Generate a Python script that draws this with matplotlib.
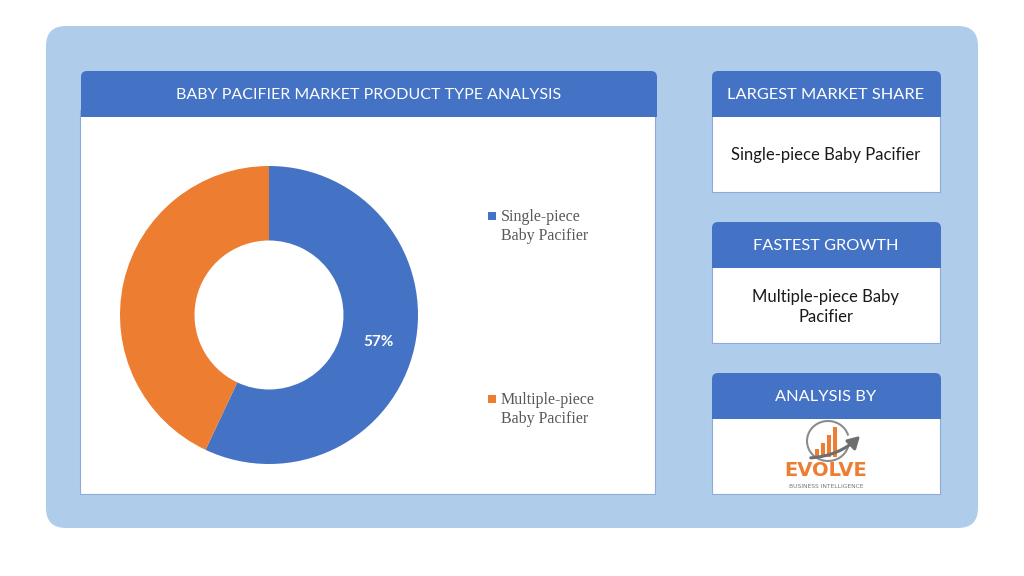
import matplotlib
matplotlib.use('Agg')
import matplotlib.pyplot as plt
from matplotlib.patches import FancyBboxPatch, Rectangle, Arc, FancyArrowPatch

# data
categories = ['Single-piece\nBaby Pacifier', 'Multiple-piece\nBaby Pacifier']
shares = [57, 43]
colors = ['#4472c4', '#ed7d31']
chart_title = 'BABY PACIFIER MARKET PRODUCT TYPE ANALYSIS'
side_titles = ['LARGEST MARKET SHARE', 'FASTEST GROWTH', 'ANALYSIS BY']
side_texts = ['Single-piece Baby Pacifier', 'Multiple-piece Baby\nPacifier']

W, H = 1024, 576
fig = plt.figure(figsize=(W / 100, H / 100), dpi=100)
ax = fig.add_axes([0, 0, 1, 1])
ax.set_xlim(0, W)
ax.set_ylim(H, 0)
ax.axis('off')

HEAD = '#4472c4'
EDGE = '#8eaadb'

# outer background
ax.add_patch(FancyBboxPatch((46, 26), 932, 502, boxstyle='round,pad=0,rounding_size=20',
                            fc='#afcdea', ec='none'))

# left panel
ax.add_patch(Rectangle((80, 110), 575, 384, fc='white', ec=EDGE, lw=0.8))
ax.add_patch(FancyBboxPatch((81, 71), 576, 46, boxstyle='round,pad=0,rounding_size=6',
                            fc=HEAD, ec='none'))
ax.add_patch(Rectangle((81, 100), 576, 17, fc=HEAD, ec='none'))
ax.text(369, 95, chart_title, color='white', fontsize=11.5, family='Lato',
        ha='center', va='center')

# right panels
tops = [71, 222, 373]
for i, top in enumerate(tops):
    ax.add_patch(Rectangle((712, top + 40), 228, 81, fc='white', ec=EDGE, lw=0.8))
    ax.add_patch(FancyBboxPatch((712, top), 229, 46, boxstyle='round,pad=0,rounding_size=6',
                                fc=HEAD, ec='none'))
    ax.add_patch(Rectangle((712, top + 30), 229, 16, fc=HEAD, ec='none'))
    ax.text(826, top + 24, side_titles[i], color='white', fontsize=11.8, family='Lato',
            ha='center', va='center')

ax.text(826, 155, side_texts[0], color='#1a1a1a', fontsize=12, family='Lato',
        ha='center', va='center')
ax.text(826, 307, side_texts[1], color='#1a1a1a', fontsize=12, family='Lato',
        ha='center', va='center', linespacing=1.35)

# logo
ax.add_patch(Arc((828, 441), 42, 40, theta1=15, theta2=345, color='#8c8c8c', lw=1.5))
for bx, bh in zip([815, 821, 827, 833], [8, 14, 22, 30]):
    ax.add_patch(Rectangle((bx, 457 - bh), 4, bh, fc='#ed7d31', ec='none'))
ax.add_patch(FancyArrowPatch((808, 458), (862, 434), connectionstyle='arc3,rad=0.2',
                             arrowstyle='-|>,head_length=7,head_width=4', color='#6e6e6e', lw=2.2))
ax.text(826, 470, 'EVOLVE', color='#ed7d31', fontsize=14, fontweight='bold',
        family='DejaVu Sans', ha='center', va='center')
ax.text(826, 487, 'BUSINESS INTELLIGENCE', color='#777777', fontsize=4.3,
        family='DejaVu Sans', ha='center', va='center')

# legend
for i, (lab, col) in enumerate(zip(categories, colors)):
    y = [217, 400][i]
    ax.add_patch(Rectangle((488, y - 5), 8, 8, fc=col, ec='none'))
    ax.text(501, y - 8, lab, color='#595959', fontsize=11.5, family='Liberation Serif',
            ha='left', va='top', linespacing=1.25)

# donut
cx, cy, r = 269, 315, 149
pax = fig.add_axes([(cx - r) / W, (H - cy - r) / H, 2 * r / W, 2 * r / H])
wedges, texts, autotexts = pax.pie(shares, colors=colors, startangle=90, counterclock=False,
                                   autopct=lambda p: '%d%%' % round(p) if p > 50 else '',
                                   pctdistance=0.75, radius=1,
                                   wedgeprops=dict(width=0.5, edgecolor='none'))
for t in autotexts:
    t.set_color('white')
    t.set_fontsize(11)
    t.set_fontweight('bold')
    t.set_family('Lato')
    t.set_y(t.get_position()[1] - 0.02)
pax.set_xlim(-1, 1)
pax.set_ylim(-1, 1)
pax.set_aspect('equal')
pax.axis('off')

fig.savefig('out.png', dpi=100)
